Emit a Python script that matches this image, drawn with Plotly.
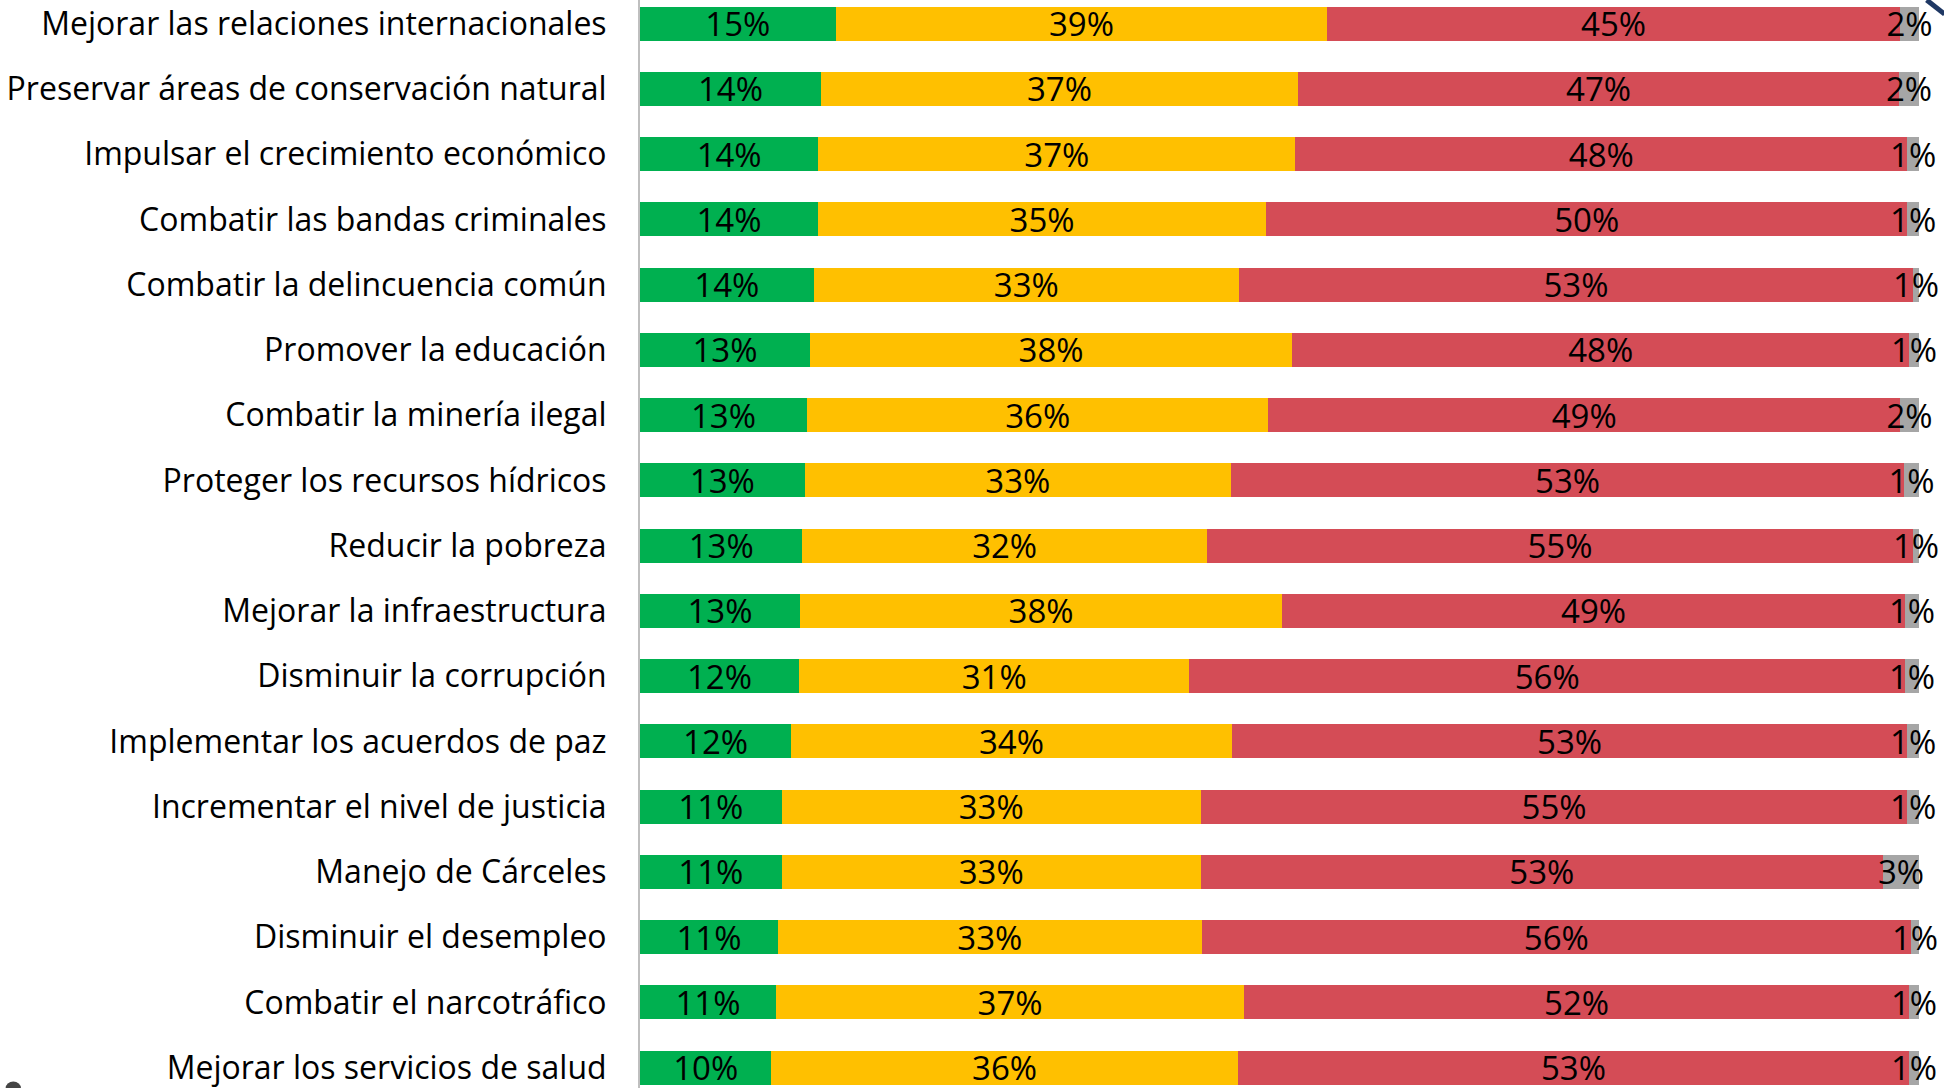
import plotly.graph_objects as go

categories = [
    "Mejorar las relaciones internacionales",
    "Preservar áreas de conservación natural",
    "Impulsar el crecimiento económico",
    "Combatir las bandas criminales",
    "Combatir la delincuencia común",
    "Promover la educación",
    "Combatir la minería ilegal",
    "Proteger los recursos hídricos",
    "Reducir la pobreza",
    "Mejorar la infraestructura",
    "Disminuir la corrupción",
    "Implementar los acuerdos de paz",
    "Incrementar el nivel de justicia",
    "Manejo de Cárceles",
    "Disminuir el desempleo",
    "Combatir el narcotráfico",
    "Mejorar los servicios de salud",
]

green_vals = [15.30, 14.15, 13.94, 13.92, 13.58, 13.29, 13.06, 12.88, 12.69, 12.51, 12.43, 11.81, 11.08, 11.08, 10.79, 10.63, 10.27]
yellow_vals = [38.44, 37.30, 37.30, 35.03, 33.25, 37.71, 36.07, 33.33, 31.64, 37.69, 30.52, 34.46, 32.76, 32.76, 33.13, 36.61, 36.47]
red_vals = [44.77, 46.99, 47.85, 50.14, 52.70, 48.22, 49.38, 52.62, 55.20, 48.71, 55.96, 52.82, 55.25, 53.35, 55.45, 51.98, 52.48]
grey_vals = [1.49, 1.56, 0.91, 0.91, 0.47, 0.78, 1.49, 1.17, 0.47, 1.09, 1.09, 0.91, 0.91, 2.81, 0.63, 0.78, 0.78]

green_labels = [15, 14, 14, 14, 14, 13, 13, 13, 13, 13, 12, 12, 11, 11, 11, 11, 10]
yellow_labels = [39, 37, 37, 35, 33, 38, 36, 33, 32, 38, 31, 34, 33, 33, 33, 37, 36]
red_labels = [45, 47, 48, 50, 53, 48, 49, 53, 55, 49, 56, 53, 55, 53, 56, 52, 53]
grey_labels = [2, 2, 1, 1, 1, 1, 2, 1, 1, 1, 1, 1, 1, 3, 1, 1, 1]

series = [
    ("Positivo", green_vals, green_labels, "#00B050"),
    ("Regular", yellow_vals, yellow_labels, "#FFC000"),
    ("Negativo", red_vals, red_labels, "#D44C56"),
    ("NS/NR", grey_vals, grey_labels, "#A6A6A6"),
]

FONT = "Open Sans"

fig = go.Figure()
for name, vals, labels, color in series:
    fig.add_trace(go.Bar(
        y=categories,
        x=vals,
        name=name,
        orientation="h",
        marker=dict(color=color, line=dict(width=0)),
        text=[f"{v}%" for v in labels],
        textposition="inside",
        insidetextanchor="middle",
        textangle=0,
        constraintext="none",
        cliponaxis=False,
        textfont=dict(family=FONT, size=33, color="#000000"),
        hoverinfo="skip",
    ))

fig.update_layout(
    barmode="stack",
    bargap=0.48,
    width=1944,
    height=1088,
    margin=dict(l=640, r=25, t=0, b=0, pad=0),
    paper_bgcolor="white",
    plot_bgcolor="white",
    showlegend=False,
    font=dict(family=FONT, color="#000000"),
    shapes=[
        dict(type="line", xref="paper", yref="paper",
             x0=1.006, y0=1.0, x1=1.02, y1=0.987,
             line=dict(color="#1F3864", width=5)),
        dict(type="circle", xref="paper", yref="paper",
             x0=-0.496, y0=-0.006, x1=-0.484, y1=0.006,
             fillcolor="#444444", line=dict(width=0)),
    ],
)
fig.update_xaxes(range=[0, 100], visible=False, showgrid=False, zeroline=False)
fig.update_yaxes(
    categoryorder="array",
    categoryarray=categories,
    range=[16.313, -0.363],
    showgrid=False,
    zeroline=False,
    showline=True,
    linecolor="#BFBFBF",
    linewidth=2,
    ticks="",
    ticklabelstandoff=25,
    tickfont=dict(family=FONT, size=32, color="#000000"),
)

fig.write_html(
    "out.html",
    config={"displayModeBar": False, "staticPlot": True},
    post_script="document.body.style.margin='0';document.body.style.overflow='hidden';",
)
